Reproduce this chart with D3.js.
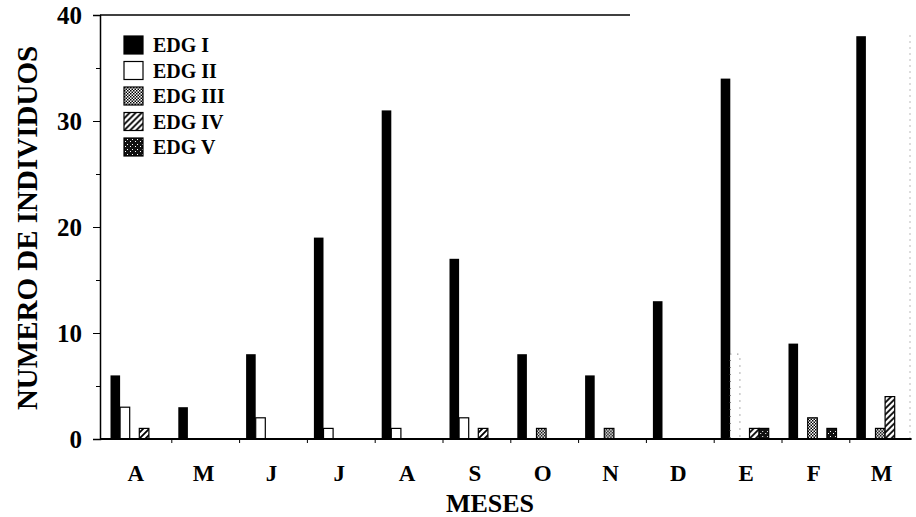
<!DOCTYPE html>
<html>
<head>
<meta charset="utf-8">
<script src="https://cdn.jsdelivr.net/npm/d3@7"></script>
<style>
 body { margin: 0; background: #fff; }
 text { font-family: "Liberation Serif", "Times New Roman", serif; font-weight: bold; }
</style>
</head>
<body>
<svg id="chart"></svg>
<script>
// data
const months = ["A", "M", "J", "J", "A", "S", "O", "N", "D", "E", "F", "M"];
const series = ["EDG I", "EDG II", "EDG III", "EDG IV", "EDG V"];
const edg1 = [6, 3, 8, 19, 31, 17, 8, 6, 13, 34, 9, 38];
const edg2 = [3, 0, 2, 1, 1, 2, 0, 0, 0, 8, 0, 0];
const edg3 = [0, 0, 0, 0, 0, 0, 1, 1, 0, 0, 2, 1];
const edg4 = [1, 0, 0, 0, 0, 1, 0, 0, 0, 1, 0, 4];
const edg5 = [0, 0, 0, 0, 0, 0, 0, 0, 0, 1, 1, 0];
const yTicks = [0, 10, 20, 30, 40];

const values = [edg1, edg2, edg3, edg4, edg5];
const rows = months.map((m, i) => ({ i, m, v: values.map(s => s[i]) }));

const width = 916, height = 517;
const svg = d3.select("#chart").attr("width", width).attr("height", height);

// patterns
const defs = svg.append("defs");
const p3 = defs.append("pattern").attr("id", "p3").attr("patternUnits", "userSpaceOnUse")
 .attr("width", 3).attr("height", 3);
p3.append("rect").attr("width", 3).attr("height", 3).attr("fill", "#fff");
p3.append("rect").attr("width", 1.5).attr("height", 1.5).attr("fill", "#000");
p3.append("rect").attr("x", 1.5).attr("y", 1.5).attr("width", 1.5).attr("height", 1.5).attr("fill", "#000");

const p4 = defs.append("pattern").attr("id", "p4").attr("patternUnits", "userSpaceOnUse")
 .attr("width", 6).attr("height", 6);
p4.append("rect").attr("width", 6).attr("height", 6).attr("fill", "#fff");
p4.append("path").attr("d", "M0,6 L6,0 M-1.5,1.5 L1.5,-1.5 M4.5,7.5 L7.5,4.5")
 .attr("stroke", "#000").attr("stroke-width", 1.8);

const p5 = defs.append("pattern").attr("id", "p5").attr("patternUnits", "userSpaceOnUse")
 .attr("width", 5).attr("height", 5);
p5.append("rect").attr("width", 5).attr("height", 5).attr("fill", "#111");
p5.append("rect").attr("x", 1).attr("y", 3).attr("width", 1).attr("height", 1).attr("fill", "#fff");
p5.append("rect").attr("x", 3).attr("y", 1).attr("width", 1).attr("height", 1).attr("fill", "#fff");

const fills = ["#000", "#fff", "url(#p3)", "url(#p4)", "url(#p5)"];

const x0 = 104, bandW = 67.8;
const x = d3.scaleBand().domain(d3.range(months.length))
 .range([x0, x0 + bandW * months.length]).paddingInner(0).paddingOuter(0);
const xs = d3.scaleBand().domain(d3.range(series.length))
 .range([6.5, 6.5 + 9.6 * series.length]);
const y = d3.scaleLinear().domain([0, 40]).range([439, 15]);

// frame lines
svg.append("line").attr("x1", 100).attr("x2", 630).attr("y1", y(40)).attr("y2", y(40))
 .attr("stroke", "#000").attr("stroke-width", 1.5);
svg.append("line").attr("x1", 910).attr("x2", 910).attr("y1", y(40) + 20).attr("y2", y(0))
 .attr("stroke", "#bbb").attr("stroke-width", 1).attr("stroke-dasharray", "2,4");

// bars
const g = svg.append("g");
const grp = g.selectAll("g.grp").data(rows).join("g")
 .attr("transform", d => `translate(${x(d.i)},0)`);
grp.selectAll("rect").data(d => d.v.map((v, k) => ({ v, k, i: d.i })).filter(e => e.v > 0))
 .join("rect")
 .attr("x", e => xs(e.k))
 .attr("width", xs.bandwidth())
 .attr("y", e => y(e.v))
 .attr("height", e => y(0) - y(e.v))
 .attr("fill", e => fills[e.k])
 .attr("stroke", e => (e.k === 1 && e.i === 9) ? "#777" : "#000")
 .attr("stroke-dasharray", e => (e.k === 1 && e.i === 9) ? "1,6" : null)
 .attr("stroke-width", e => e.k === 0 ? 0 : 1.2);

// y axis
const yAxis = svg.append("g").attr("transform", "translate(100,0)")
 .call(d3.axisLeft(y).tickValues(yTicks).tickSize(7).tickPadding(11));
yAxis.select(".domain").attr("stroke-width", 1.5);
yAxis.selectAll(".tick text").attr("font-size", 25).attr("fill", "#000");
svg.append("g").attr("transform", "translate(100,0)")
 .call(d3.axisLeft(y).tickValues([5, 15, 25, 35]).tickSize(4).tickFormat(""))
 .select(".domain").remove();

// x axis
svg.append("line").attr("x1", 100).attr("x2", x0 + bandW * months.length - 6)
 .attr("y1", y(0)).attr("y2", y(0)).attr("stroke", "#000").attr("stroke-width", 2);
svg.append("g").selectAll("line").data(d3.range(1, months.length)).join("line")
 .attr("x1", d => x0 + d * bandW).attr("x2", d => x0 + d * bandW)
 .attr("y1", y(0)).attr("y2", y(0) + 4).attr("stroke", "#000");
svg.append("g").selectAll("text").data(rows).join("text")
 .attr("x", d => x(d.i) + bandW / 2 - 2)
 .attr("y", 481)
 .attr("text-anchor", "middle")
 .attr("font-size", 23)
 .text(d => d.m);

// axis titles
svg.append("text").attr("x", 490).attr("y", 512).attr("text-anchor", "middle")
 .attr("font-size", 26).text("MESES");
svg.append("text").attr("transform", "translate(37,228) rotate(-90)")
 .attr("text-anchor", "middle").attr("font-size", 29).text("NUMERO DE INDIVIDUOS");

// legend
const leg = svg.append("g").attr("transform", "translate(124,36)");
const li = leg.selectAll("g").data(series).join("g")
 .attr("transform", (d, k) => `translate(0,${k * 25.5})`);
li.append("rect").attr("width", 19).attr("height", 18)
 .attr("fill", (d, k) => fills[k]).attr("stroke", "#000").attr("stroke-width", 1.2);
li.append("text").attr("x", 29).attr("y", 16).attr("font-size", 20).text(d => d);
</script>
</body>
</html>
